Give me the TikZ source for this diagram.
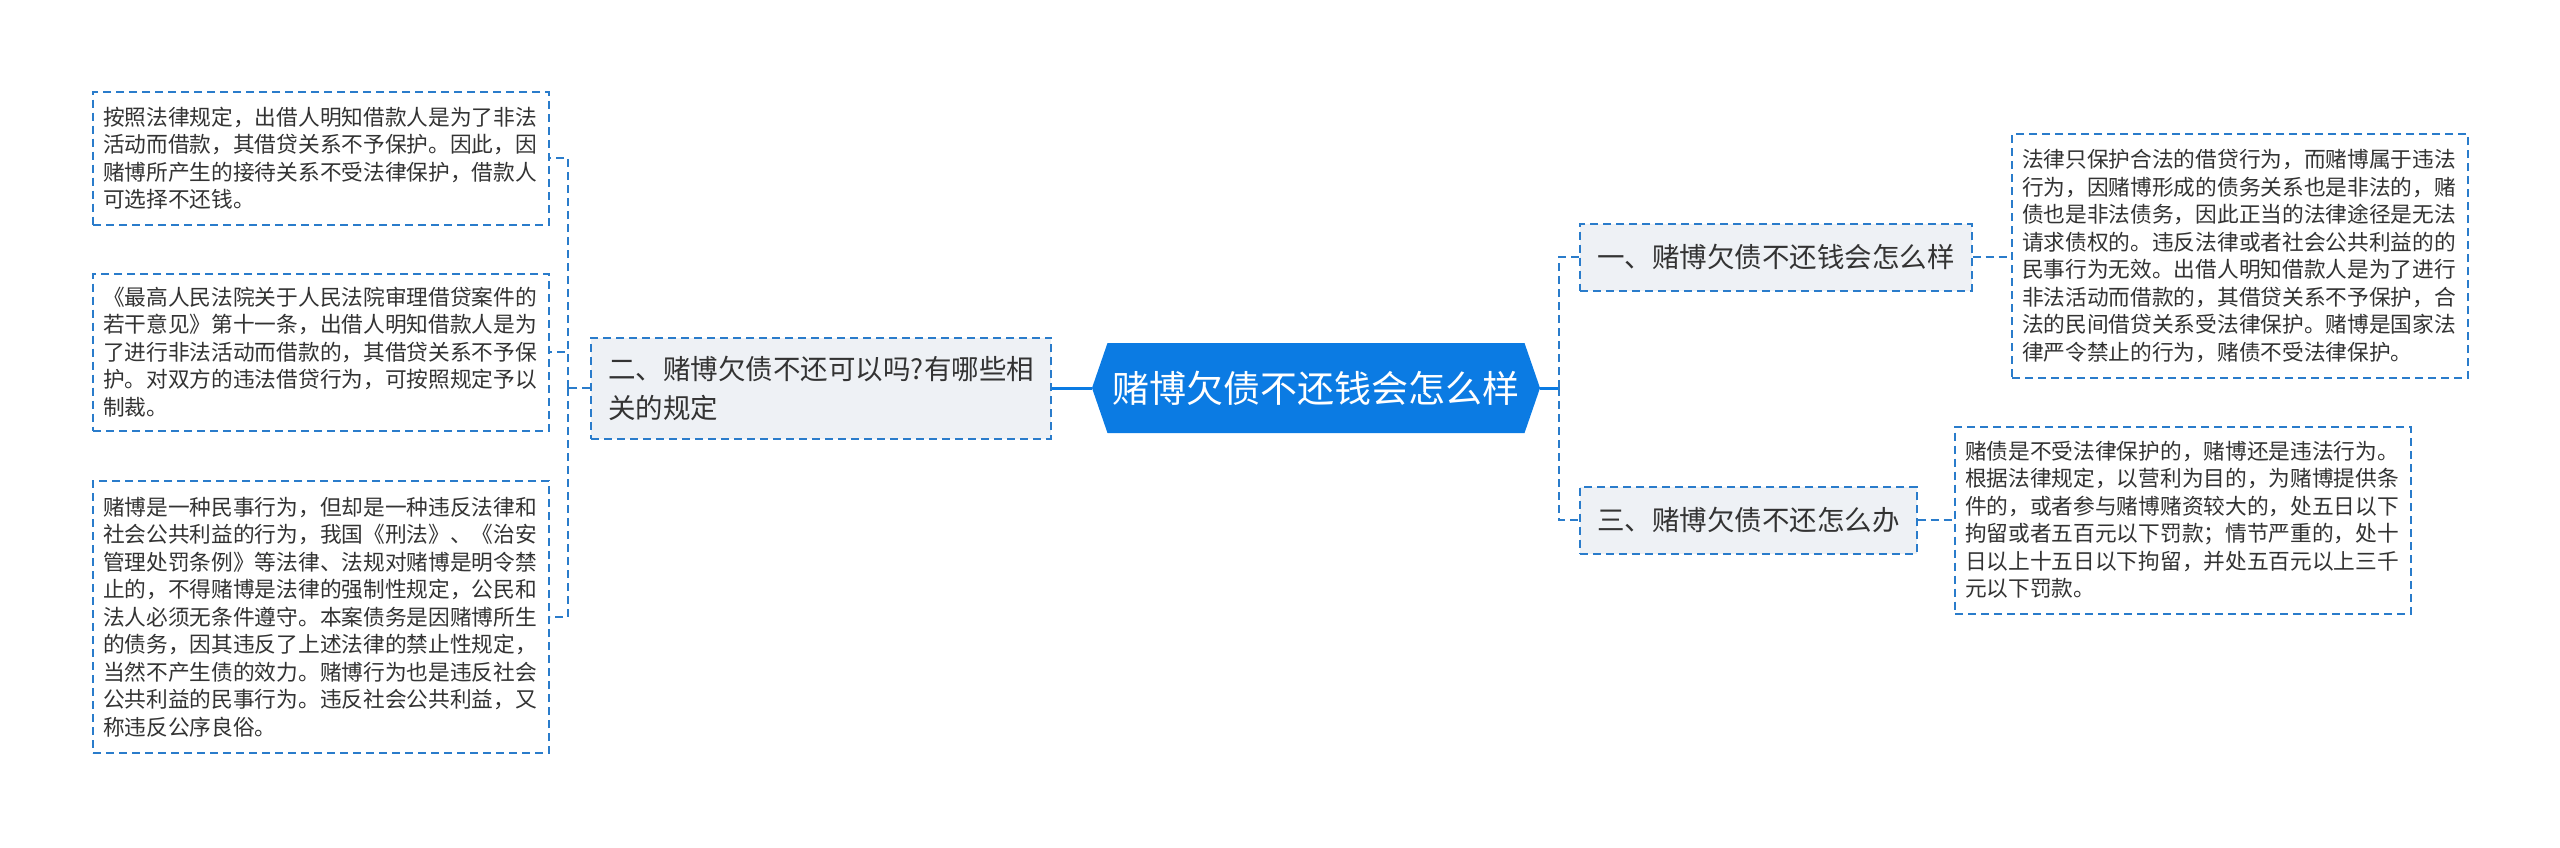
\documentclass[tikz,border=0pt]{standalone}
\usepackage{fontspec}
\setmainfont{Noto Sans CJK SC}
\usetikzlibrary{shapes.symbols}
\definecolor{accent1}{HTML}{0B7BE3}
\definecolor{accent2}{HTML}{2A7CCB}
\definecolor{accent3}{HTML}{EEF1F5}
\definecolor{accent4}{HTML}{333333}
\begin{document}
\begin{tikzpicture}[x=1pt,y=-1pt,
  hub/.style={shape=signal, signal to=west and east, signal pointer angle=142, fill=accent1, text=white, font=\fontsize{37}{40}\selectfont, minimum height=90pt, minimum width=448pt, inner xsep=4pt},
  topic/.style={draw=accent2, line width=2pt, dash pattern=on 8pt off 5pt, fill=accent3, text=accent4, font=\fontsize{27.5}{39}\selectfont, inner xsep=17pt, inner ysep=4pt, align=left},
  leaf/.style={draw=accent2, line width=2pt, dash pattern=on 8pt off 5pt, fill=white, text=accent4, font=\fontsize{21.7}{27.5}\selectfont, text width=436pt, inner xsep=10pt, inner ysep=4pt, align=left},
  link/.style={draw=accent2, line width=2.5pt, dash pattern=on 8pt off 5pt},
  trunk/.style={draw=accent1, line width=3pt}]
\useasboundingbox (0,0) rectangle (2560,847);
\node[hub] (hub) at (1316,388) {赌博欠债不还钱会怎么样};
\node[topic, anchor=east, minimum height=101pt] (two) at (1052,388) {二、赌博欠债不还可以吗?有哪些相\\关的规定};
\node[topic, anchor=west, minimum height=67pt] (one) at (1579,257) {一、赌博欠债不还钱会怎么样};
\node[topic, anchor=west, minimum height=67pt] (three) at (1579,520) {三、赌博欠债不还怎么办};
\node[leaf, anchor=east, minimum height=133pt] (lawone) at (550,158) {按照法律规定，出借人明知借款人是为了非法\\活动而借款，其借贷关系不予保护。因此，因\\赌博所产生的接待关系不受法律保护，借款人\\可选择不还钱。};
\node[leaf, anchor=east, minimum height=157pt] (lawtwo) at (550,352) {《最高人民法院关于人民法院审理借贷案件的\\若干意见》第十一条，出借人明知借款人是为\\了进行非法活动而借款的，其借贷关系不予保\\护。对双方的违法借贷行为，可按照规定予以\\制裁。};
\node[leaf, anchor=east, minimum height=272pt] (lawthree) at (550,617) {赌博是一种民事行为，但却是一种违反法律和\\社会公共利益的行为，我国《刑法》、《治安\\管理处罚条例》等法律、法规对赌博是明令禁\\止的，不得赌博是法律的强制性规定，公民和\\法人必须无条件遵守。本案债务是因赌博所生\\的债务，因其违反了上述法律的禁止性规定，\\当然不产生债的效力。赌博行为也是违反社会\\公共利益的民事行为。违反社会公共利益，又\\称违反公序良俗。};
\node[leaf, anchor=west, minimum height=244pt] (answer) at (2011,256) {法律只保护合法的借贷行为，而赌博属于违法\\行为，因赌博形成的债务关系也是非法的，赌\\债也是非法债务，因此正当的法律途径是无法\\请求债权的。违反法律或者社会公共利益的的\\民事行为无效。出借人明知借款人是为了进行\\非法活动而借款的，其借贷关系不予保护，合\\法的民间借贷关系受法律保护。赌博是国家法\\律严令禁止的行为，赌债不受法律保护。};
\node[leaf, anchor=west, minimum height=187pt] (remedy) at (1954,520) {赌债是不受法律保护的，赌博还是违法行为。\\根据法律规定，以营利为目的，为赌博提供条\\件的，或者参与赌博赌资较大的，处五日以下\\拘留或者五百元以下罚款；情节严重的，处十\\日以上十五日以下拘留，并处五百元以上三千\\元以下罚款。};
\coordinate (lj) at (568,388);
\coordinate (rj) at (1559,388);
\draw[trunk] (hub.west) -- (two.east);
\draw[trunk] (hub.east) -- (rj);
\draw[link] (two.west) -- (lj);
\draw[link] (lj) |- (lawone.east);
\draw[link] (lj) |- (lawtwo.east);
\draw[link] (lj) |- (lawthree.east);
\draw[link] (rj) |- (one.west);
\draw[link] (rj) |- (three.west);
\draw[link] (one.east) -- (one.east -| answer.west);
\draw[link] (three.east) -- (three.east -| remedy.west);
\end{tikzpicture}
\end{document}
